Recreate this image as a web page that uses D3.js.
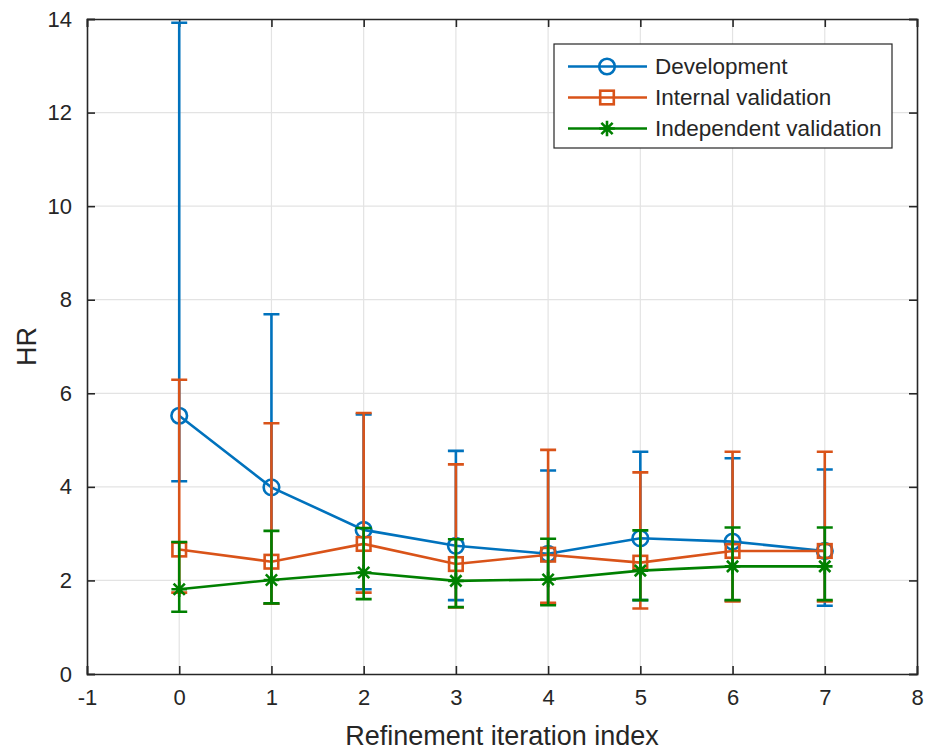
<!DOCTYPE html>
<html>
<head>
<meta charset="utf-8">
<script src="https://cdn.jsdelivr.net/npm/d3@7"></script>
<style>
  body { margin: 0; background: #fff; }
  text { font-family: "Liberation Sans", Arial, sans-serif; fill: #262626; }
</style>
</head>
<body>
<svg id="chart"></svg>
<script>
// iteration index
const iterations = [0, 1, 2, 3, 4, 5, 6, 7];

// Development
const devMean = [5.52, 3.99, 3.08, 2.74, 2.57, 2.90, 2.83, 2.63];
const devLow = [4.12, 1.50, 1.81, 1.58, 1.50, 1.58, 1.57, 1.46];
const devHigh = [13.92, 7.69, 5.55, 4.77, 4.35, 4.75, 4.61, 4.37];

// Internal validation
const intMean = [2.66, 2.40, 2.78, 2.35, 2.55, 2.38, 2.63, 2.63];
const intLow = [1.74, 1.50, 1.74, 1.42, 1.52, 1.40, 1.55, 1.55];
const intHigh = [6.29, 5.36, 5.58, 4.48, 4.79, 4.31, 4.75, 4.75];

// Independent validation
const indMean = [1.81, 2.01, 2.17, 1.99, 2.02, 2.21, 2.30, 2.30];
const indLow = [1.33, 1.51, 1.60, 1.43, 1.47, 1.58, 1.58, 1.58];
const indHigh = [2.82, 3.06, 3.12, 2.88, 2.89, 3.07, 3.13, 3.13];

const xTicks = [-1, 0, 1, 2, 3, 4, 5, 6, 7, 8];
const yTicks = [0, 2, 4, 6, 8, 10, 12, 14];

const series = [
  { name: "Development", color: "#0072BD", marker: "circle", mean: devMean, low: devLow, high: devHigh },
  { name: "Internal validation", color: "#D95319", marker: "square", mean: intMean, low: intLow, high: intHigh },
  { name: "Independent validation", color: "#008000", marker: "star", mean: indMean, low: indLow, high: indHigh },
];

const W = 925, H = 750;
const margin = { top: 19, right: 8, bottom: 76, left: 87 };
const innerW = W - margin.left - margin.right;
const innerH = H - margin.top - margin.bottom;

const svg = d3.select("#chart").attr("width", W).attr("height", H);
const g = svg.append("g").attr("transform", `translate(${margin.left},${margin.top})`);

const x = d3.scaleLinear().domain([-1, 8]).range([0, innerW]);
const y = d3.scaleLinear().domain([0, 14]).range([innerH, 0]);

// grid
g.append("g").selectAll("line").data(xTicks.slice(1, -1)).enter().append("line")
  .attr("x1", d => x(d)).attr("x2", d => x(d))
  .attr("y1", 0).attr("y2", innerH)
  .attr("stroke", "#e3e3e3").attr("stroke-width", 1.2);
g.append("g").selectAll("line").data(yTicks.slice(1, -1)).enter().append("line")
  .attr("x1", 0).attr("x2", innerW)
  .attr("y1", d => y(d)).attr("y2", d => y(d))
  .attr("stroke", "#e3e3e3").attr("stroke-width", 1.2);

// axes (ticks inside, box on)
const tickLen = 8;
const fmt = d => String(d); // plain hyphen minus like the original
const xAxis = g.append("g").attr("transform", `translate(0,${innerH})`)
  .call(d3.axisBottom(x).tickValues(xTicks).tickSize(-tickLen).tickPadding(15).tickFormat(fmt));
const xTop = g.append("g")
  .call(d3.axisTop(x).tickValues(xTicks).tickSize(-tickLen).tickFormat(""));
const yAxis = g.append("g")
  .call(d3.axisLeft(y).tickValues(yTicks).tickSize(-tickLen).tickPadding(15).tickFormat(fmt));
const yRight = g.append("g").attr("transform", `translate(${innerW},0)`)
  .call(d3.axisRight(y).tickValues(yTicks).tickSize(-tickLen).tickFormat(""));

[xAxis, xTop, yAxis, yRight].forEach(a => {
  a.select(".domain").attr("stroke", "#262626").attr("stroke-width", 1.6);
  a.selectAll(".tick line").attr("stroke", "#262626").attr("stroke-width", 1.6);
  a.selectAll(".tick text").style("font-size", "22px").attr("fill", "#262626");
});
xAxis.selectAll(".tick text").attr("dy", "0.71em");

// axis labels
svg.append("text")
  .attr("x", margin.left + innerW / 2).attr("y", 745)
  .attr("text-anchor", "middle")
  .style("font-size", "27px")
  .text("Refinement iteration index");
svg.append("text")
  .attr("transform", `translate(36,${margin.top + innerH / 2}) rotate(-90)`)
  .attr("text-anchor", "middle")
  .style("font-size", "27px")
  .text("HR");

function drawMarker(sel, type, color) {
  if (type === "circle") {
    sel.append("circle").attr("r", 7.8).attr("fill", "none")
      .attr("stroke", color).attr("stroke-width", 2.6);
  } else if (type === "square") {
    sel.append("rect").attr("x", -6.8).attr("y", -6.8).attr("width", 13.6).attr("height", 13.6)
      .attr("fill", "none").attr("stroke", color).attr("stroke-width", 2.6);
  } else {
    const r = 7.8, d = r * 0.72;
    const p = `M${-r},0L${r},0M0,${-r}L0,${r}M${-d},${-d}L${d},${d}M${-d},${d}L${d},${-d}`;
    sel.append("path").attr("d", p).attr("fill", "none")
      .attr("stroke", color).attr("stroke-width", 2.6);
  }
}

const capW = 8;
const line = d3.line().x(d => x(d[0])).y(d => y(d[1]));

series.forEach(s => {
  const sg = g.append("g");
  const pts = iterations.map((it, i) => ({ it, m: s.mean[i], lo: s.low[i], hi: s.high[i] }));

  // error bars
  sg.selectAll(".eb").data(pts).enter().append("path")
    .attr("d", d => {
      const cx = x(d.it), yl = y(d.lo), yh = y(d.hi);
      return `M${cx},${yl}L${cx},${yh}M${cx - capW},${yh}L${cx + capW},${yh}M${cx - capW},${yl}L${cx + capW},${yl}`;
    })
    .attr("fill", "none").attr("stroke", s.color).attr("stroke-width", 2.6);

  // connecting line
  sg.append("path").datum(pts.map(d => [d.it, d.m]))
    .attr("d", line).attr("fill", "none").attr("stroke", s.color).attr("stroke-width", 2.6);

  // markers
  sg.selectAll(".mk").data(pts).enter().append("g")
    .attr("transform", d => `translate(${x(d.it)},${y(d.m)})`)
    .each(function () { drawMarker(d3.select(this), s.marker, s.color); });
});

// legend
const lg = svg.append("g").attr("transform", "translate(554,44)");
lg.append("rect").attr("width", 338).attr("height", 104)
  .attr("fill", "#fff").attr("stroke", "#262626").attr("stroke-width", 1.2);
series.forEach((s, i) => {
  const ry = 22.5 + i * 31;
  lg.append("line").attr("x1", 14).attr("x2", 93).attr("y1", ry).attr("y2", ry)
    .attr("stroke", s.color).attr("stroke-width", 2.6);
  const mk = lg.append("g").attr("transform", `translate(53,${ry})`);
  drawMarker(mk, s.marker, s.color);
  lg.append("text").attr("x", 101).attr("y", ry).attr("dy", "0.35em")
    .style("font-size", "22.5px").text(s.name);
});
</script>
</body>
</html>
